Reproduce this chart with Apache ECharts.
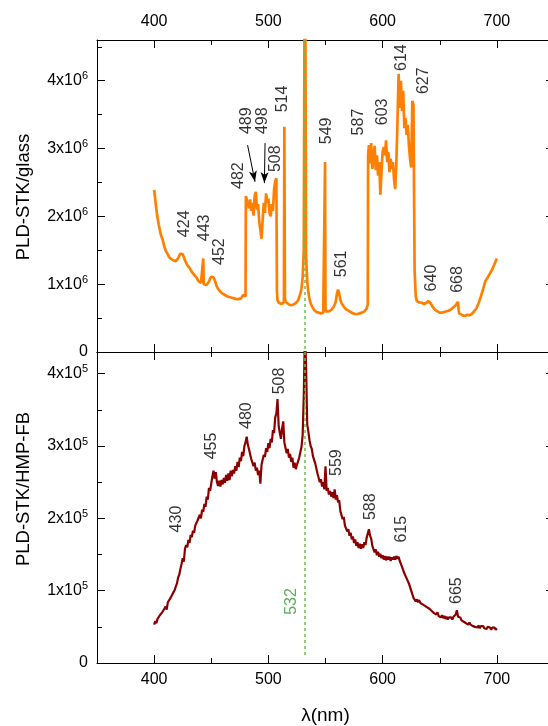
<!DOCTYPE html>
<html>
<head>
<meta charset="utf-8">
<script src="https://cdn.jsdelivr.net/npm/echarts@6/dist/echarts.min.js"></script>
<style>
  html, body { margin: 0; padding: 0; background: #fff; }
  #chart { width: 548px; height: 726px; }
</style>
</head>
<body>
<div id="chart"></div>
<script>
// wavelength axis (nm)
const xMin = 350, xMax = 750;
const xMajor = [400, 500, 600, 700];
const xMinor = [350, 450, 550, 650, 750];

// top panel: PLD-STK/glass, intensity in units of 1x10^6
const glassMax = 4.6;
const glassMajor = [0, 1, 2, 3, 4];
const glassMinor = [0.5, 1.5, 2.5, 3.5, 4.5];
const glassSpectrum = [
  [400,2.39],[401,2.25],[402,2.10],[403,1.98],[404,1.88],[405,1.80],[406,1.72],[407,1.68],[408,1.62],[409,1.55],
  [410,1.50],[411,1.47],[412,1.44],[413,1.40],[414,1.39],[415,1.37],[416,1.38],[417,1.35],[418,1.36],[419,1.34],
  [420,1.36],[421,1.38],[422,1.42],[423,1.45],[424,1.47],[425,1.44],[426,1.40],[427,1.35],[428,1.32],[429,1.28],
  [430,1.26],[431,1.24],[432,1.21],[433,1.18],[434,1.16],[435,1.14],[436,1.12],[437,1.10],[438,1.07],[439,1.04],
  [440,1.02],[441,1.02],[442,1.00],[442.6,1.00],[443,1.38],[443.4,1.00],[444,0.99],[445,0.98],[446,0.99],[447,1.00],
  [448,1.04],[449,1.08],[450,1.11],[451,1.12],[452,1.10],[453,1.06],[454,1.01],[455,0.96],[456,0.93],[457,0.91],
  [458,0.89],[459,0.87],[460,0.86],[462,0.84],[464,0.82],[466,0.81],[468,0.80],[470,0.79],[472,0.78],[474,0.78],
  [476,0.79],[477,0.80],[478,0.84],[479,0.86],[480,0.82],[480.3,2.30],[481,2.28],[482,2.31],[483,2.12],[484,2.25],
  [485,2.08],[486,2.20],[487,2.01],[488,2.30],[489,2.36],[490,2.10],[491,2.18],[492,1.92],[493,1.80],[494,1.67],
  [495,1.95],[496,2.20],[497,2.05],[498,2.34],[499,2.20],[500,2.26],[501,2.05],[502,2.00],[503,2.18],[504,2.08],
  [505,2.40],[506,2.52],[507,2.56],[507.5,0.90],[508,0.76],[509,0.73],[510,0.72],[511,0.71],[512,0.70],[513,0.72],
  [513.6,0.75],[514,3.32],[514.5,0.80],[515,0.74],[516,0.72],[518,0.70],[520,0.69],[522,0.70],[524,0.72],[526,0.76],
  [528,0.86],[529,0.94],[530,1.10],[531,1.50],[531.8,6.0],[532,9.0],[532.2,6.0],[533,1.40],[534,1.05],[535,0.88],
  [536,0.78],[537,0.72],[538,0.68],[540,0.62],[542,0.59],[544,0.58],[546,0.57],[548,0.58],[549.3,0.59],[549.6,2.80],
  [550,0.60],[551,0.59],[553,0.60],[555,0.62],[557,0.66],[559,0.74],[560,0.86],[561,0.92],[562,0.86],[563,0.77],
  [564,0.72],[566,0.67],[568,0.63],[570,0.61],[572,0.59],[574,0.57],[576,0.56],[578,0.56],[580,0.57],[582,0.58],
  [584,0.60],[586,0.64],[587,0.70],[587.3,2.90],[588,3.05],[589,2.78],[590,3.08],[591,2.70],[592,2.85],[593,3.04],
  [594,2.68],[595,2.90],[596,2.60],[597,2.80],[598,2.32],[599,2.65],[600,2.95],[601,3.02],[602,2.90],[603,3.12],
  [604,2.80],[605,2.95],[606,2.65],[607,2.85],[608,2.70],[609,2.80],[610,2.55],[611,2.40],[612,2.78],[613,3.40],
  [614,4.10],[615,3.60],[616,4.00],[617,3.55],[618,3.85],[619,3.30],[620,3.45],[621,3.20],[622,3.35],[623,3.05],
  [624,2.85],[625,2.72],[626,3.70],[627,3.65],[627.5,2.40],[628,1.20],[629,0.82],[630,0.75],[632,0.73],[634,0.73],
  [636,0.71],[638,0.72],[640,0.75],[641,0.76],[642,0.72],[644,0.66],[646,0.62],[648,0.60],[650,0.58],[652,0.58],
  [654,0.59],[656,0.60],[658,0.61],[660,0.63],[662,0.66],[664,0.69],[666,0.74],[666.5,0.62],[667,0.57],[668,0.56],
  [670,0.54],[672,0.53],[674,0.55],[676,0.54],[678,0.56],[680,0.60],[682,0.64],[684,0.72],[686,0.82],[688,0.93],
  [690,1.05],[692,1.10],[694,1.16],[696,1.22],[698,1.30],[700,1.38]
];
// peak labels of the top panel: text, label centre (nm, intensity)
const glassPeakText = ['424','443','452','482','489','498','508','514','549','561','587','603','614','627','640','668'];
const glassPeakNm   = [426.3,444.6,457.3,473.5,480.7,495.0,506.7,512.6,550.6,564.0,579.0,600.3,616.4,635.6,642.7,666.0];
const glassPeakY    = [1.89,1.83,1.48,2.60,3.41,3.41,2.85,3.73,3.26,1.30,3.39,3.54,4.34,4.00,1.09,1.07];
// arrows for 489 and 498: [fromNm, fromY, toNm, toY]
const glassArrows = [[481.8,3.05,488.3,2.51],[497.1,3.08,496.5,2.49]];

// bottom panel: PLD-STK/HMP-FB, intensity in units of 1x10^5, one point per nm from 400
const fbMax = 4.3;
const fbMajor = [0, 1, 2, 3, 4];
const fbMinor = [0.5, 1.5, 2.5, 3.5];
const fbStartNm = 400;
const fbIntensity = [
  0.53,0.58,0.55,0.61,0.60,0.66,0.64,0.70,0.69,0.75,
  0.78,0.74,0.84,0.83,0.89,0.92,0.90,0.98,1.01,1.06,
  1.10,1.18,1.22,1.30,1.37,1.45,1.40,1.58,1.63,1.60,
  1.70,1.66,1.77,1.74,1.83,1.80,1.90,1.88,1.97,1.95,
  2.05,2.00,2.12,2.09,2.20,2.16,2.30,2.26,2.42,2.38,
  2.48,2.58,2.66,2.55,2.64,2.50,2.45,2.52,2.44,2.53,
  2.47,2.56,2.49,2.60,2.52,2.62,2.53,2.66,2.58,2.67,
  2.62,2.72,2.66,2.78,2.71,2.84,2.79,2.92,2.86,3.00,
  3.05,3.13,3.02,2.96,2.95,2.82,2.84,2.72,2.77,2.66,
  2.70,2.60,2.66,2.48,2.74,2.72,2.88,2.85,2.97,2.92,
  3.04,2.97,3.10,3.05,3.22,3.18,3.40,3.45,3.65,3.28,
  3.18,3.10,3.24,3.34,3.05,3.06,2.90,2.96,2.84,2.89,
  2.78,2.84,2.70,2.77,2.68,2.74,2.72,2.84,2.86,2.99,
  3.15,3.70,4.60,4.10,3.30,3.20,3.08,3.00,2.96,2.86,
  2.88,2.76,2.75,2.62,2.64,2.50,2.54,2.44,2.50,2.40,
  2.72,2.38,2.42,2.33,2.38,2.30,2.36,2.28,2.40,2.26,
  2.32,2.22,2.25,2.10,2.12,1.99,2.02,1.90,1.92,1.82,
  1.85,1.76,1.80,1.71,1.75,1.66,1.71,1.62,1.67,1.59,
  1.65,1.58,1.64,1.59,1.67,1.63,1.73,1.74,1.85,1.76,
  1.72,1.62,1.60,1.53,1.57,1.49,1.54,1.47,1.51,1.45,
  1.49,1.43,1.48,1.42,1.47,1.43,1.47,1.41,1.46,1.43,
  1.47,1.43,1.48,1.44,1.47,1.41,1.40,1.33,1.32,1.24,
  1.23,1.17,1.16,1.10,1.08,1.00,0.98,0.90,0.90,0.85,
  0.88,0.84,0.87,0.83,0.85,0.81,0.83,0.79,0.81,0.77,
  0.79,0.75,0.77,0.72,0.74,0.69,0.71,0.67,0.70,0.65,
  0.67,0.63,0.66,0.62,0.65,0.61,0.64,0.60,0.63,0.61,
  0.63,0.60,0.64,0.62,0.67,0.73,0.64,0.62,0.63,0.59,
  0.61,0.57,0.59,0.55,0.57,0.53,0.56,0.53,0.55,0.51,
  0.53,0.50,0.52,0.49,0.52,0.48,0.51,0.49,0.51,0.48,
  0.50,0.47,0.50,0.48,0.49,0.46,0.49,0.47,0.49,0.46,
  0.48
];
const fbPeakText = ['430','455','480','508','559','588','615','665'];
const fbPeakNm   = [419.3,450.4,480.7,509.9,559.4,589.5,616.7,664.6];
const fbPeakY    = [1.99,3.00,3.42,3.90,2.77,2.16,1.85,1.00];

// laser line
const laserNm = 532;
const laserLabelNm = 519.9, laserLabelY = 0.85;
const laserLineBottomFb = 0.07;

const FONT = '"Liberation Sans", Arial, Helvetica, sans-serif';
const ORANGE = '#ff8000';
const DARKRED = '#8b0000';
const GREEN_LINE = '#6cbf4f';
const GREEN_TEXT = '#2f9a2f';

const chart = echarts.init(document.getElementById('chart'));

function makeXAxes(gridIndex, position, showLabel) {
  const base = {
    type: 'value', gridIndex: gridIndex, position: position, min: xMin, max: xMax,
    splitLine: { show: false }
  };
  return [
    Object.assign({}, base, {
      axisLine: { show: true, onZero: false, lineStyle: { color: '#000', width: 1 } },
      axisTick: { show: true, inside: true, length: 8, customValues: xMajor, lineStyle: { color: '#000' } },
      axisLabel: { show: showLabel, customValues: xMajor, margin: position === 'top' ? 10 : 9,
        fontSize: 16, color: '#000', fontFamily: FONT }
    }),
    Object.assign({}, base, {
      axisLine: { show: false, onZero: false },
      axisTick: { show: true, inside: true, length: 5, customValues: xMinor, lineStyle: { color: '#000' } },
      axisLabel: { show: false }
    })
  ];
}

function makeYAxes(gridIndex, position, max, major, minor, exp, showLabel) {
  const base = {
    type: 'value', gridIndex: gridIndex, position: position, min: 0, max: max,
    splitLine: { show: false }
  };
  return [
    Object.assign({}, base, {
      axisLine: { show: true, onZero: false, lineStyle: { color: '#000', width: 1 } },
      axisTick: { show: true, inside: true, length: 8, customValues: major, lineStyle: { color: '#000' } },
      axisLabel: {
        show: showLabel, customValues: major, margin: 9, color: '#000', fontFamily: FONT,
        formatter: function (v) { return v === 0 ? '{b|0}' : '{b|' + v + 'x10}{s|' + exp + '}'; },
        rich: {
          b: { fontSize: 16, lineHeight: 20, fontFamily: FONT, color: '#000' },
          s: { fontSize: 11, lineHeight: 11, verticalAlign: 'bottom', padding: [0, 0, 9, 0], fontFamily: FONT, color: '#000' }
        }
      }
    }),
    Object.assign({}, base, {
      axisLine: { show: false, onZero: false },
      axisTick: { show: true, inside: true, length: 5, customValues: minor, lineStyle: { color: '#000' } },
      axisLabel: { show: false }
    })
  ];
}

const xAxes = [].concat(
  makeXAxes(0, 'top', true),      // 0,1
  makeXAxes(0, 'bottom', false),  // 2,3
  makeXAxes(1, 'top', false),     // 4,5
  makeXAxes(1, 'bottom', true)    // 6,7
);
xAxes[6].name = 'λ(nm)';
xAxes[6].nameLocation = 'middle';
xAxes[6].nameGap = 43;
xAxes[6].nameTextStyle = { fontSize: 19, color: '#000', fontFamily: FONT };

const yAxes = [].concat(
  makeYAxes(0, 'left', glassMax, glassMajor, glassMinor, 6, true),   // 0,1
  makeYAxes(0, 'right', glassMax, glassMajor, glassMinor, 6, false), // 2,3
  makeYAxes(1, 'left', fbMax, fbMajor, fbMinor, 5, true),            // 4,5
  makeYAxes(1, 'right', fbMax, fbMajor, fbMinor, 5, false)           // 6,7
);

const glassLabels = glassPeakText.map(function (t, i) { return [glassPeakNm[i], glassPeakY[i], t]; });
const fbLabels = fbPeakText.map(function (t, i) { return [fbPeakNm[i], fbPeakY[i], t]; });
const fbData = fbIntensity.map(function (v, i) { return [fbStartNm + i, v]; });

const peakLabel = {
  show: true, position: 'inside', rotate: 90, fontSize: 16, color: '#000', fontFamily: FONT,
  formatter: function (p) { return p.value[2]; }
};

const arrowLines = glassArrows.map(function (a) {
  return [
    { coord: [a[0], a[1]], symbol: 'none' },
    { coord: [a[2], a[3]], symbol: 'arrow', symbolSize: [6, 11] }
  ];
});

chart.setOption({
  animation: false,
  backgroundColor: '#fff',
  grid: [
    { left: 97, top: 40, width: 457, height: 312, outerBoundsMode: 'none', containLabel: false },
    { left: 97, top: 352, width: 457, height: 311, outerBoundsMode: 'none', containLabel: false }
  ],
  xAxis: xAxes,
  yAxis: yAxes,
  graphic: [
    { type: 'text', x: 24, y: 197, rotation: Math.PI / 2,
      style: { text: 'PLD-STK/glass', fontSize: 18.5, fontFamily: FONT, fill: '#000', align: 'center', verticalAlign: 'middle' } },
    { type: 'text', x: 24, y: 489, rotation: Math.PI / 2,
      style: { text: 'PLD-STK/HMP-FB', fontSize: 18.5, fontFamily: FONT, fill: '#000', align: 'center', verticalAlign: 'middle' } }
  ],
  series: [
    {
      name: 'PLD-STK/glass', type: 'line', xAxisIndex: 0, yAxisIndex: 0,
      data: glassSpectrum, showSymbol: false, clip: true, z: 2,
      lineStyle: { color: ORANGE, width: 2.7 }, itemStyle: { color: ORANGE }
    },
    {
      name: 'PLD-STK/HMP-FB', type: 'line', xAxisIndex: 6, yAxisIndex: 4,
      data: fbData, showSymbol: false, clip: true, z: 2,
      lineStyle: { color: DARKRED, width: 2.2 }, itemStyle: { color: DARKRED }
    },
    {
      name: 'glass peaks', type: 'scatter', xAxisIndex: 0, yAxisIndex: 0, z: 5,
      data: glassLabels, symbolSize: 1, itemStyle: { color: 'rgba(0,0,0,0)' },
      label: peakLabel, silent: true,
      markLine: {
        silent: true, symbol: ['none', 'none'], label: { show: false },
        lineStyle: { color: '#000', width: 1, type: 'solid' },
        data: [
          [
            { coord: [laserNm, glassMax], lineStyle: { color: GREEN_LINE, width: 1.5, type: [3, 3] } },
            { coord: [laserNm, 0] }
          ]
        ].concat(arrowLines)
      }
    },
    {
      name: 'fb peaks', type: 'scatter', xAxisIndex: 6, yAxisIndex: 4, z: 5,
      data: fbLabels, symbolSize: 1, itemStyle: { color: 'rgba(0,0,0,0)' },
      label: peakLabel, silent: true,
      markLine: {
        silent: true, symbol: ['none', 'none'], label: { show: false },
        lineStyle: { color: GREEN_LINE, width: 1.5, type: [3, 3] },
        data: [[{ coord: [laserNm, fbMax] }, { coord: [laserNm, laserLineBottomFb] }]]
      }
    },
    {
      name: 'laser', type: 'scatter', xAxisIndex: 6, yAxisIndex: 4, z: 5,
      data: [[laserLabelNm, laserLabelY, String(laserNm)]], symbolSize: 1,
      itemStyle: { color: 'rgba(0,0,0,0)' }, silent: true,
      label: Object.assign({}, peakLabel, { color: GREEN_TEXT })
    }
  ]
});
</script>
</body>
</html>
